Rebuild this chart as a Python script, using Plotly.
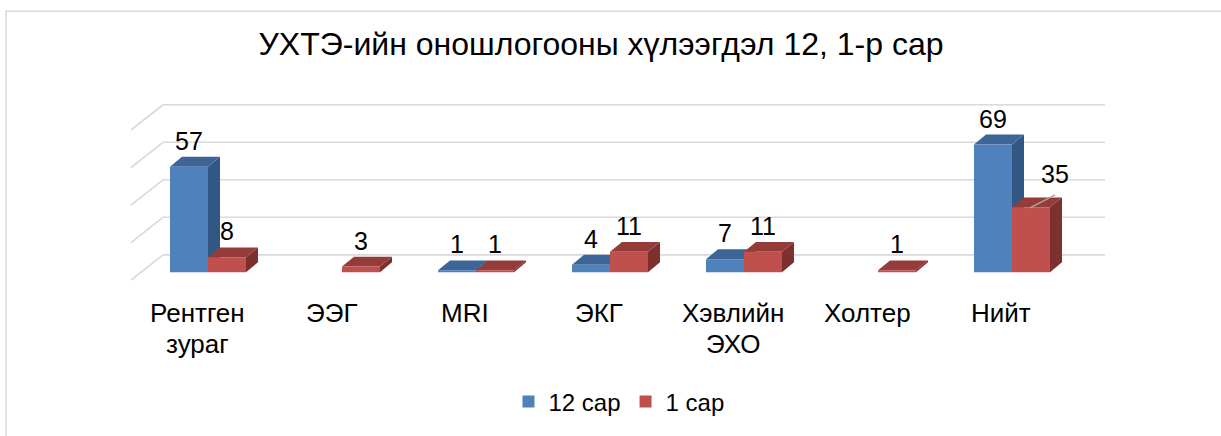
import plotly.graph_objects as go

# ---------------- data ----------------
title_text = "УХТЭ-ийн оношлогооны хүлээгдэл 12, 1-р сар"
categories = ["Рентген<br>зураг", "ЭЭГ", "MRI", "ЭКГ", "Хэвлийн<br>ЭХО", "Холтер", "Нийт"]
series_names = ["12 сар", "1 сар"]
dec_vals = [57, None, 1, 4, 7, None, 69]
jan_vals = [8, 3, 1, 11, 11, 1, 35]
grid_vals = [0, 20, 40, 60, 80]

# ---------------- styling / geometry ----------------
W_PX, H_PX = 1221, 436
L, R, T, B = 120, 111, 90, 146
PX_PER_CAT = 134.0
PX_PER_UNIT = 1.87
X0_PX = 208.0         # pixel x of category 0
BASE_PX = 274.0       # pixel y of value 0 (front)

def ux(px):
    return (px - X0_PX) / PX_PER_CAT

def uy(py):
    return (BASE_PX - py) / PX_PER_UNIT

BAR_W = 38 / PX_PER_CAT
DX = 12 / PX_PER_CAT
DY = 10 / PX_PER_UNIT

colors = {
    0: dict(front="#4F81BD", top="#3E6597", side="#335784"),
    1: dict(front="#C0504D", top="#953C3A", side="#7D312F"),
}

fig = go.Figure()

series = [dec_vals, jan_vals]

def poly_trace(xs, ys, color):
    return go.Scatter(x=xs, y=ys, fill="toself", fillcolor=color, mode="lines",
                      line=dict(width=0, color=color), hoverinfo="skip", showlegend=False)

# build faces per series (blue drawn before red so red front covers blue side)
for s, vals in enumerate(series):
    side_x, side_y, top_x, top_y, fr_x, fr_y = [], [], [], [], [], []
    for i, v in enumerate(vals):
        if v is None:
            continue
        x0 = i - BAR_W if s == 0 else i
        x1 = x0 + BAR_W
        side_x += [x1, x1, x1 + DX, x1 + DX, x1, None]
        side_y += [0, v, v + DY, DY, 0, None]
        top_x += [x0, x1, x1 + DX, x0 + DX, x0, None]
        top_y += [v, v, v + DY, v + DY, v, None]
        fr_x += [x0, x1, x1, x0, x0, None]
        fr_y += [0, 0, v, v, 0, None]
    fig.add_trace(poly_trace(side_x, side_y, colors[s]["side"]))
    fig.add_trace(poly_trace(top_x, top_y, colors[s]["top"]))
    fig.add_trace(poly_trace(fr_x, fr_y, colors[s]["front"]))

# legend entries
for s, name in enumerate(series_names):
    fig.add_trace(go.Bar(x=[None], y=[None], name=name,
                         marker=dict(color=colors[s]["front"], line=dict(width=0))))

shapes = []
# back-wall gridlines and left side-wall diagonals
GRID_COLOR = "#D9D9D9"
for g in grid_vals:
    yb = uy(256.5 - g * 1.895)
    shapes.append(dict(type="line", xref="x", yref="y", x0=ux(163), x1=ux(1105),
                       y0=yb, y1=yb, layer="below", line=dict(color=GRID_COLOR, width=1.6)))
    shapes.append(dict(type="line", xref="x", yref="y", x0=ux(131), x1=ux(163),
                       y0=yb - 25.5 / PX_PER_UNIT, y1=yb, layer="below",
                       line=dict(color=GRID_COLOR, width=1.6)))

# chart border
shapes.append(dict(type="rect", xref="paper", yref="paper",
                   x0=(6 - L) / (W_PX - L - R), x1=1.3,
                   y0=-1.0, y1=(H_PX - B - 10.5) / (H_PX - T - B),
                   line=dict(color="#D9D9D9", width=1.5), fillcolor="rgba(0,0,0,0)", layer="below"))

annotations = []
# data labels
label_shift = {(1, 6): (24, 23)}  # (series, category) -> (xshift, yshift) with leader line
for s, vals in enumerate(series):
    for i, v in enumerate(vals):
        if v is None:
            continue
        cx = i - BAR_W / 2 if s == 0 else i + BAR_W / 2
        xs, ys = label_shift.get((s, i), (0, 16))
        annotations.append(dict(x=cx, y=v + DY, xref="x", yref="y", text=str(v),
                                showarrow=False, xanchor="center", yanchor="middle",
                                xshift=xs, yshift=ys,
                                font=dict(size=25, color="#000000",
                                          family="Liberation Sans, Arial, sans-serif")))
        if (s, i) in label_shift:
            shapes.append(dict(type="line", xref="x", yref="y", xsizemode="pixel",
                               ysizemode="pixel", xanchor=cx, yanchor=v,
                               x0=-1, y0=-0.5, x1=24, y1=12.5,
                               line=dict(color="#A6A6A6", width=1.5)))

# category labels (each line separately for Excel-like line spacing)
for i, cat in enumerate(categories):
    for j, line in enumerate(cat.split("<br>")):
        annotations.append(dict(x=i - 0.082, y=0, xref="x", yref="paper", text=line,
                                showarrow=False, xanchor="center", yanchor="middle",
                                yshift=-25 - 31 * j,
                                font=dict(size=26, color="#000000",
                                          family="Liberation Sans, Arial, sans-serif")))

fig.update_layout(
    width=W_PX, height=H_PX,
    margin=dict(l=L, r=R, t=T, b=B, pad=0),
    paper_bgcolor="white", plot_bgcolor="white",
    title=dict(text=title_text, x=601 / W_PX, xanchor="center", xref="container",
               y=1 - 44 / H_PX, yanchor="middle", yref="container",
               font=dict(size=32, color="#000000", family="Liberation Sans, Arial, sans-serif")),
    xaxis=dict(type="linear", range=[ux(L), ux(W_PX - R)], showgrid=False, zeroline=False,
               showticklabels=False, showline=False, fixedrange=True),
    yaxis=dict(type="linear", range=[uy(H_PX - B), uy(T)], showgrid=False, zeroline=False,
               showticklabels=False, showline=False, fixedrange=True),
    barmode="overlay",
    showlegend=True,
    legend=dict(orientation="h", x=(619 - L) / (W_PX - L - R), xanchor="center",
                y=(H_PX - B - 405) / (H_PX - T - B), yanchor="middle",
                font=dict(size=24, color="#000000", family="Liberation Sans, Arial, sans-serif"),
                itemwidth=30, bgcolor="rgba(0,0,0,0)"),
    shapes=shapes,
    annotations=annotations,
)

fig.write_html("out.html", config={"displayModeBar": False},
               post_script="document.body.style.margin='0';document.body.style.overflow='hidden';")
